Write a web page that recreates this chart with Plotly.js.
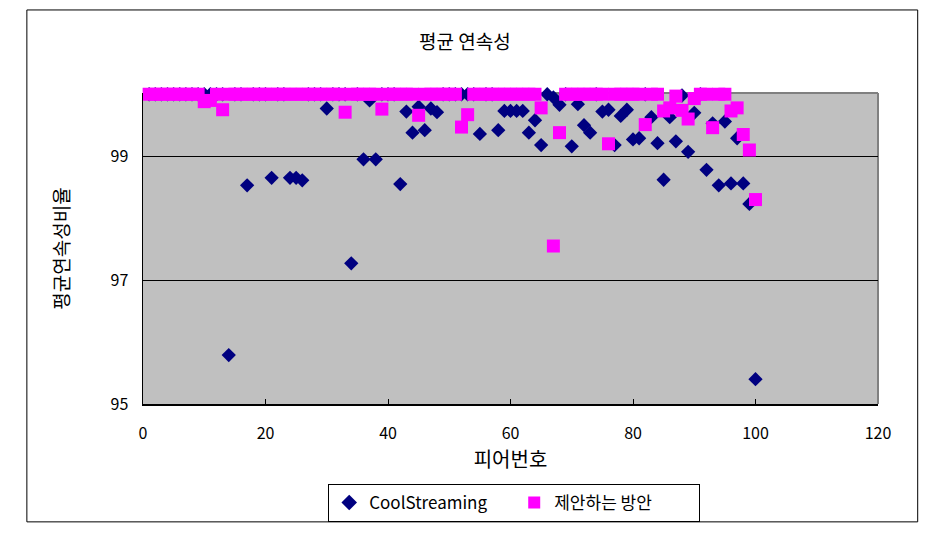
<!DOCTYPE html>
<html>
<head>
<meta charset="utf-8">
<script src="https://cdn.plot.ly/plotly-3.0.1.min.js"></script>
<style>html,body{margin:0;padding:0;background:#fff;}#chart{width:945px;height:539px;}</style>
</head>
<body>
<div id="chart"></div>
<script>
// Peer numbers
const peers = [];
for (let i = 1; i <= 100; i++) peers.push(i);

// CoolStreaming continuity (%) per peer (hidden ones at 100)
const coolStreaming = [
  100, 100, 100, 100, 100, 100, 100, 100, 100, 100,        // 1-10
  100, 100, 100, 95.79, 100, 100, 98.53, 100, 100, 100,     // 11-20
  98.65, 100, 100, 98.65, 98.65, 98.61, 100, 100, 100, 99.77, // 21-30
  100, 100, 100, 97.27, 100, 98.95, 99.9, 98.95, 100, 100,  // 31-40
  100, 98.55, 99.72, 99.38, 99.8, 99.42, 99.77, 99.71, 100, 100, // 41-50
  100, 100, 100, 100, 99.36, 100, 100, 99.42, 99.73, 99.73, // 51-60
  99.73, 99.73, 99.38, 99.58, 99.18, 100, 99.95, 99.83, 100, 99.16, // 61-70
  99.84, 99.5, 99.38, 100, 99.72, 99.75, 99.18, 99.65, 99.75, 99.27, // 71-80
  99.29, 100, 99.63, 99.21, 98.62, 99.63, 99.24, 99.98, 99.07, 99.7, // 81-90
  100, 98.78, 99.53, 98.53, 99.56, 98.56, 99.29, 98.56, 98.23, 95.4  // 91-100
];

// Proposed scheme (제안하는 방안) continuity (%) per peer
const proposed = [
  100, 100, 100, 100, 100, 100, 100, 100, 100, 99.88,       // 1-10
  99.9, 100, 99.75, 100, 100, 100, 100, 100, 100, 100,      // 11-20
  100, 100, 100, 100, 100, 100, 100, 100, 100, 100,         // 21-30
  100, 100, 99.71, 100, 100, 100, 100, 100, 99.76, 100,     // 31-40
  100, 100, 100, 100, 99.66, 100, 100, 100, 100, 100,       // 41-50
  100, 99.47, 99.67, 100, 100, 100, 100, 100, 100, 100,     // 51-60
  100, 100, 100, 100, 99.78, null, 97.55, 99.38, 100, 100,  // 61-70
  100, 100, 100, 100, 100, 99.2, 100, 100, 100, 100,        // 71-80
  100, 99.51, 100, 100, 99.73, 99.78, 99.97, 99.74, 99.6, 99.93, // 81-90
  100, 100, 99.46, 100, 100, 99.73, 99.78, 99.35, 99.1, 98.3 // 91-100
];

const seriesNames = ["CoolStreaming", "제안하는 방안"];
const xTicks = [0, 20, 40, 60, 80, 100, 120];
const yTicks = [95, 97, 99];

const FONT = "'Noto Sans CJK KR', 'DejaVu Sans', sans-serif";

const traces = [
  {
    x: peers, y: coolStreaming, name: seriesNames[0],
    type: "scatter", mode: "markers", cliponaxis: false,
    marker: {symbol: "diamond", size: 11, color: "#000080"}
  },
  {
    x: peers, y: proposed, name: seriesNames[1],
    type: "scatter", mode: "markers", cliponaxis: false,
    marker: {symbol: "square", size: 13, color: "#ff00ff"}
  }
];

const layout = {
  width: 945, height: 539,
  margin: {l: 143, r: 67, t: 93, b: 135, pad: 0},
  paper_bgcolor: "#ffffff",
  plot_bgcolor: "#c0c0c0",
  font: {family: FONT, size: 15, color: "#000"},
  title: {text: "평균 연속성", font: {family: FONT, size: 19, color: "#000"},
          x: 0.492, xanchor: "center", y: 0.922, yanchor: "middle"},
  showlegend: true,
  legend: {
    orientation: "h", x: 0.252, xanchor: "left", y: -0.257, yanchor: "top",
    bordercolor: "#000", borderwidth: 1, bgcolor: "#fff",
    font: {family: FONT, size: 17, color: "#000"},
    entrywidth: 140, entrywidthmode: "pixels",
    itemsizing: "constant", tracegroupgap: 0
  },
  xaxis: {
    range: [0, 120], tickvals: xTicks, ticktext: xTicks.map(String),
    showgrid: false, zeroline: false,
    showline: true, linecolor: "#000", linewidth: 1.5,
    ticks: "inside", ticklen: 5, tickcolor: "#000",
    ticklabelstandoff: 14,
    tickfont: {family: FONT, size: 16, color: "#000"},
    title: {text: "피어번호", font: {family: FONT, size: 20, color: "#000"}, standoff: 10}
  },
  yaxis: {
    range: [95, 100.02], tickvals: yTicks, ticktext: yTicks.map(String),
    showgrid: true, gridcolor: "#000", gridwidth: 1,
    zeroline: false,
    showline: true, linecolor: "#000", linewidth: 1.5,
    ticks: "", ticklabelstandoff: 10,
    tickfont: {family: FONT, size: 16, color: "#000"},
    title: {text: "평균연속성비율", font: {family: FONT, size: 19, color: "#000"}, standoff: 36}
  },
  shapes: [
    // gray top/right plot border
    {type: "line", xref: "paper", yref: "paper", x0: 0, x1: 1, y0: 1, y1: 1,
     line: {color: "#808080", width: 2}, layer: "below"},
    {type: "line", xref: "paper", yref: "paper", x0: 1, x1: 1, y0: 0, y1: 1,
     line: {color: "#808080", width: 2}, layer: "below"},
    // outer chart frame
    {type: "rect", xref: "paper", yref: "paper",
     x0: -0.158, x1: 1.054, y0: -0.379, y1: 1.267,
     line: {color: "#000", width: 1}, fillcolor: "rgba(0,0,0,0)"}
  ]
};

Plotly.newPlot("chart", traces, layout, {displayModeBar: false, staticPlot: true});
</script>
</body>
</html>
